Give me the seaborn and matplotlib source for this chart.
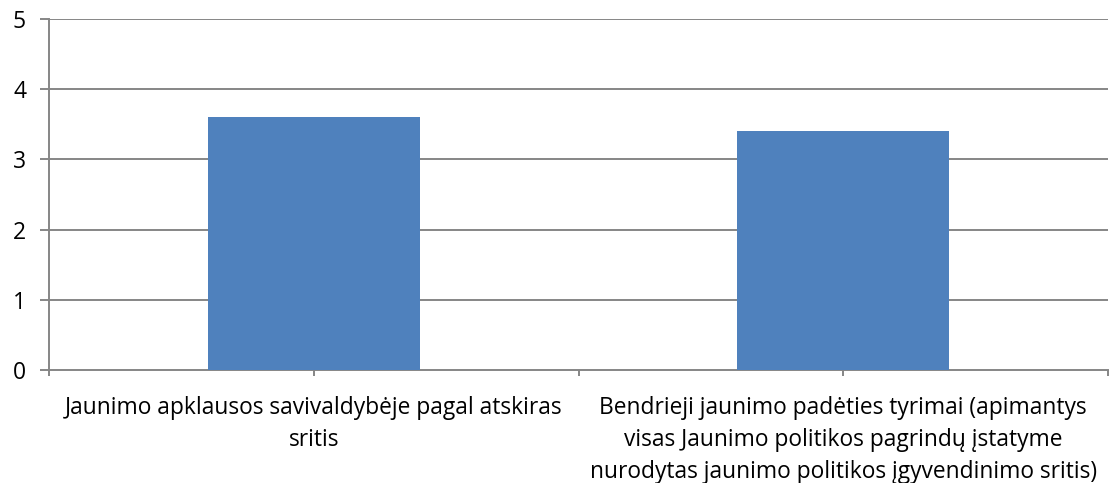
import matplotlib
matplotlib.use("Agg")
import matplotlib.pyplot as plt
import seaborn as sns
from matplotlib.ticker import FixedLocator

categories = [
    "Jaunimo apklausos savivaldybėje pagal atskiras\nsritis",
    "Bendrieji jaunimo padėties tyrimai (apimantys\nvisas Jaunimo politikos pagrindų įstatyme\nnurodytas jaunimo politikos įgyvendinimo sritis)",
]
values = [3.6, 3.4]
y_ticks = [0, 1, 2, 3, 4, 5]

sns.set_theme(style="white")
plt.rcParams['font.family'] = ['Open Sans', 'DejaVu Sans']
plt.rcParams['text.color'] = 'black'
plt.rcParams['xtick.color'] = 'black'
plt.rcParams['ytick.color'] = 'black'

grid_col = "#868686"
fig = plt.figure(figsize=(11.12, 4.83), dpi=100)
ax = fig.add_axes([49 / 1112, 1 - 370 / 483, (1108 - 49) / 1112, (370 - 19) / 483])

sns.barplot(x=list(range(len(values))), y=values, color="#4F81BD", width=0.4,
            saturation=1, linewidth=0, ax=ax, zorder=3)

ax.set_xlim(-0.5, len(values) - 0.5)
ax.set_ylim(0, 5)
ax.set_yticks(y_ticks)
ax.set_yticklabels([str(t) for t in y_ticks], fontsize=16.5)
ax.set_xticks(range(len(categories)))
ax.set_xticklabels(categories, fontsize=16.4, linespacing=1.42)
ax.xaxis.set_minor_locator(FixedLocator([-0.5, 0.5, 1.5]))

for y in y_ticks[1:]:
    ax.axhline(y, color=grid_col, lw=1.4, zorder=1)

for side in ["top", "right"]:
    ax.spines[side].set_visible(False)
for side in ["left", "bottom"]:
    ax.spines[side].set_color(grid_col)
    ax.spines[side].set_linewidth(1.4)

ax.tick_params(axis="y", which="major", left=True, length=6.5, width=1.4, color=grid_col, pad=10)
ax.tick_params(axis="x", which="both", bottom=True, length=4, width=1.4, color=grid_col, direction="out")
ax.tick_params(axis="x", which="major", pad=15)
ax.set_xlabel("")
ax.set_ylabel("")

fig.savefig("out.png", dpi=100)
